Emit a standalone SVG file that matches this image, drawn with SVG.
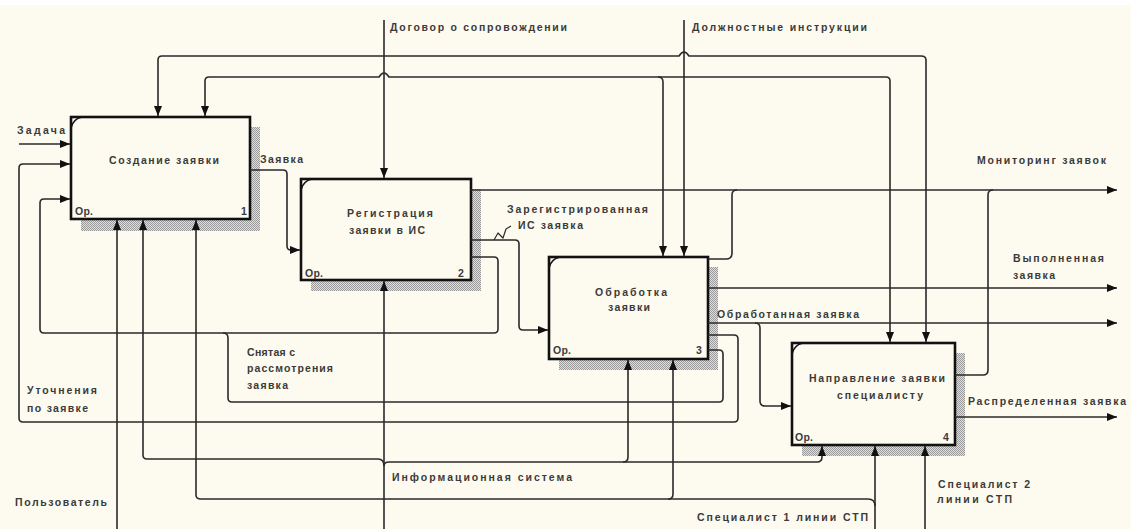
<svg xmlns="http://www.w3.org/2000/svg" width="1131" height="529" viewBox="0 0 1131 529">
<defs>
<pattern id="hatch" width="2" height="2" patternUnits="userSpaceOnUse">
<rect width="2" height="2" fill="#e2dfd5"/>
<rect width="1" height="1" fill="#9a9a9a"/>
<rect x="1" y="1" width="1" height="1" fill="#9a9a9a"/>
</pattern>
<marker id="arr" markerUnits="userSpaceOnUse" markerWidth="10" markerHeight="8" refX="10" refY="4" orient="auto-start-reverse">
<path d="M0,0 L10,4 L0,8 z" fill="#111"/>
</marker>
<style>
.box{fill:#fdfaef;stroke:#111;stroke-width:2.6}
.sh{fill:url(#hatch)}
.cm{fill:none;stroke:#111;stroke-width:1.4}
.c{fill:none;stroke:#2a2a2a;stroke-width:1.6;stroke-linejoin:round}
.a{marker-end:url(#arr)}
.t{font-family:"Liberation Sans",Arial,sans-serif;font-size:10.5px;font-weight:bold;fill:#3a3a3a}
</style>
</defs>
<rect width="1131" height="529" fill="#ffffff"/>
<rect x="0" y="5" width="1131" height="524" fill="#fdfaef"/>

<g id="node1">
<rect class="sh" x="251" y="127" width="9" height="104"/>
<rect class="sh" x="81" y="220" width="179" height="11"/>
<rect class="box" x="71" y="117" width="179" height="102"/>
<path class="cm" d="M71,128 Q73,119 82,117"/>
<text class="t" x="109" y="164" textLength="110">Создание заявки</text>
<text class="t" x="75" y="215" textLength="18">Ор.</text>
<text class="t" x="241" y="215">1</text>
</g>

<g id="node2">
<rect class="sh" x="472" y="189" width="9" height="102"/>
<rect class="sh" x="311" y="281" width="170" height="10"/>
<rect class="box" x="301" y="179" width="170" height="101"/>
<path class="cm" d="M301,190 Q303,181 312,179"/>
<text class="t" x="347" y="217" textLength="86">Регистрация</text>
<text class="t" x="349" y="234" textLength="76">заявки в ИС</text>
<text class="t" x="305" y="277" textLength="18">Ор.</text>
<text class="t" x="458" y="277">2</text>
</g>

<g id="node3">
<rect class="sh" x="709" y="267" width="9" height="103"/>
<rect class="sh" x="559" y="360" width="159" height="10"/>
<rect class="box" x="549" y="257" width="159" height="102"/>
<path class="cm" d="M549,268 Q551,259 560,257"/>
<text class="t" x="595" y="296" textLength="72">Обработка</text>
<text class="t" x="608" y="311" textLength="42">заявки</text>
<text class="t" x="553" y="354" textLength="18">Ор.</text>
<text class="t" x="696" y="354">3</text>
</g>

<g id="node4">
<rect class="sh" x="956" y="353" width="9" height="102"/>
<rect class="sh" x="802" y="446" width="163" height="10"/>
<rect class="box" x="792" y="343" width="163" height="102"/>
<path class="cm" d="M792,354 Q794,345 803,343"/>
<text class="t" x="809" y="382" textLength="136">Направление заявки</text>
<text class="t" x="837" y="399" textLength="86">специалисту</text>
<text class="t" x="795" y="441" textLength="18">Ор.</text>
<text class="t" x="943" y="441">4</text>
</g>

<g id="connectors">
<!-- Задача -->
<path class="c a" d="M19,144 H70"/>
<!-- Уточнения по заявке -->
<path class="c a" d="M708,335 H734 Q738,335 738,339 V418 Q738,422 734,422 H23 Q19,422 19,418 V168 Q19,164 23,164 H70"/>
<!-- Снятая с рассмотрения (from box 3) -->
<path class="c" d="M708,350 H719 Q723,350 723,354 V398 Q723,402 719,402 H232 Q228,402 228,398 V338 Q228,333 223,333"/>
<!-- Снятая (from box 2) -->
<path class="c a" d="M471,257 H494 Q498,257 498,261 V329 Q498,333 494,333 H44 Q40,333 40,329 V203 Q40,199 44,199 H70"/>
<!-- Заявка -->
<path class="c a" d="M250,170 H283 Q287,170 287,174 V246 Q287,250 291,250 H300"/>
<!-- Зарегистрированная в ИС заявка -->
<path class="c a" d="M471,240 H515 Q519,240 519,244 V326 Q519,330 523,330 H548"/>
<path class="c" d="M494,240 L498,233 L503,238 L506,229 L511,226" style="stroke-width:1.2"/>
<!-- Договор о сопровождении -->
<path class="c a" d="M384,20 V178"/>
<!-- Должностные инструкции -->
<path class="c a" d="M684,20 V256"/>
<!-- top control line y=56 -->
<path class="c a" d="M158,116 V60 Q158,56 162,56 H679 Q684,48 689,56 H921 Q926,56 926,60 V342" style="marker-start:url(#arr)"/>
<!-- top control line y=77 -->
<path class="c a" d="M205,116 V81 Q205,77 209,77 H379 Q384,69 389,77 H886 Q890,77 890,81 V342" style="marker-start:url(#arr)"/>
<path class="c a" d="M658,77 Q663,77 663,82 V256"/>
<!-- Мониторинг заявок -->
<path class="c a" d="M471,190 H1117"/>
<path class="c" d="M708,259 H726 Q732,259 732,253 V195 Q732,190 737,190"/>
<path class="c" d="M955,375 H983 Q988,375 988,370 V195 Q988,190 993,190"/>
<!-- Выполненная заявка -->
<path class="c a" d="M708,288 H1117"/>
<!-- Обработанная заявка -->
<path class="c a" d="M708,323 H1117"/>
<path class="c a" d="M755,323 Q760,323 760,328 V401 Q760,406 765,406 H791"/>
<!-- Распределенная заявка -->
<path class="c a" d="M955,417 H1117"/>
<!-- Пользователь -->
<path class="c a" d="M117,529 V220"/>
<!-- Информационная система -->
<path class="c a" d="M384,529 V281"/>
<path class="c a" d="M384,466 Q384,459 378,459 H147 Q143,459 143,455 V220"/>
<path class="c a" d="M384,466 Q384,462 389,462 H817 Q822,462 822,457 V446"/>
<path class="c a" d="M623,462 Q628,462 628,457 V360"/>
<!-- Специалист 1 линии СТП -->
<path class="c a" d="M875,529 V446"/>
<path class="c a" d="M875,506 Q875,499 868,499 H201 Q196,499 196,495 V220"/>
<path class="c a" d="M668,499 Q673,499 673,494 V360"/>
<!-- Специалист 2 линии СТП -->
<path class="c a" d="M925,529 V446"/>
</g>

<g id="labels">
<text class="t" x="17" y="134" textLength="48">Задача</text>
<text class="t" x="260" y="163" textLength="43">Заявка</text>
<text class="t" x="390" y="31" textLength="177">Договор о сопровождении</text>
<text class="t" x="692" y="31" textLength="175">Должностные инструкции</text>
<text class="t" x="507" y="213" textLength="141">Зарегистрированная</text>
<text class="t" x="518" y="229" textLength="65">ИС заявка</text>
<text class="t" x="977" y="164" textLength="129">Мониторинг заявок</text>
<text class="t" x="1013" y="262" textLength="91">Выполненная</text>
<text class="t" x="1013" y="279" textLength="42">заявка</text>
<text class="t" x="717" y="318" textLength="142">Обработанная заявка</text>
<text class="t" x="968" y="405" textLength="158">Распределенная заявка</text>
<text class="t" x="247" y="356" textLength="48">Снятая с</text>
<text class="t" x="247" y="372" textLength="86">рассмотрения</text>
<text class="t" x="247" y="389" textLength="41">заявка</text>
<text class="t" x="27" y="394" textLength="70">Уточнения</text>
<text class="t" x="27" y="412" textLength="61">по заявке</text>
<text class="t" x="15" y="506" textLength="92">Пользователь</text>
<text class="t" x="392" y="481" textLength="180">Информационная система</text>
<text class="t" x="697" y="521" textLength="171">Специалист 1 линии СТП</text>
<text class="t" x="938" y="488" textLength="92">Специалист 2</text>
<text class="t" x="937" y="503" textLength="75">линии СТП</text>
</g>
</svg>
